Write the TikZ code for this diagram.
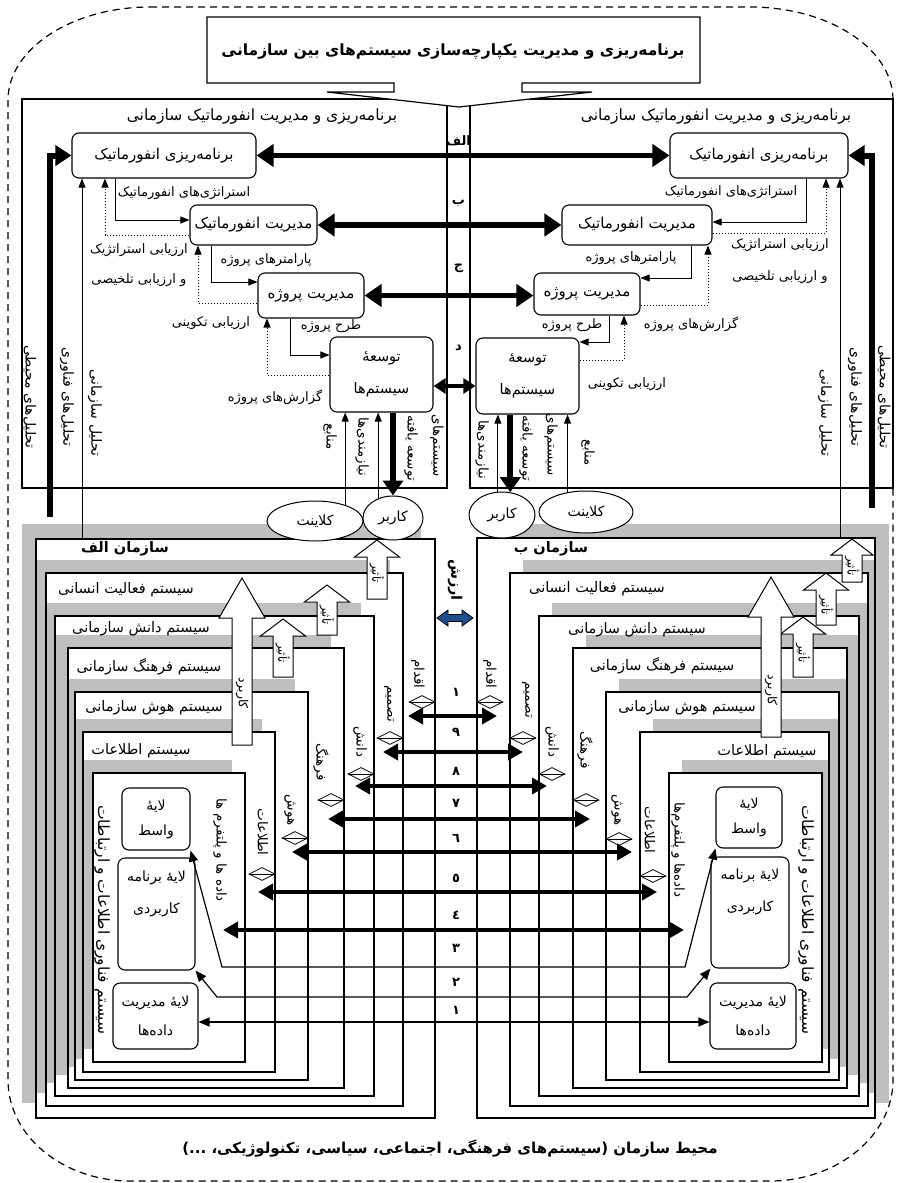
\documentclass[tikz,border=0pt]{standalone}
\usepackage{fontspec}
\setmainfont{DejaVu Sans}
\newfontfamily\fa[Script=Arabic]{DejaVu Sans}
\TeXXeTstate=1
\usetikzlibrary{arrows.meta,shapes.geometric,calc}
\newcommand{\pr}[1]{{\fa\beginR #1\endR}}
\definecolor{shadowgray}{gray}{0.75}
\definecolor{arzesh}{HTML}{1F4E8C}
\tikzset{
  rbox/.style={draw, line width=1.1pt, rounded corners=7pt, fill=white, align=center, font=\fontsize{15}{19}\selectfont, inner sep=0pt},
  lab/.style={font=\fontsize{13}{15}\selectfont, inner sep=0pt},
  vlab/.style={rotate=-90, font=\fontsize{13.5}{15}\selectfont, inner sep=0pt},
  lvl/.style={font=\fontsize{14.5}{16}\selectfont, inner sep=0pt},
  thinarr/.style={line width=0.9pt, -{Triangle[length=9pt,width=7pt]}},
  dotarr/.style={line width=1pt, dotted, -{Triangle[length=9pt,width=7pt]}},
  fatarr/.style={line width=5.5pt, {Triangle[length=17pt,width=22pt]}-{Triangle[length=17pt,width=22pt]}},
  fatone/.style={line width=6pt, -{Triangle[length=16pt,width=20pt]}},
  gridarr/.style={line width=4.5pt, {Triangle[length=15pt,width=16pt]}-{Triangle[length=15pt,width=16pt]}},
  orgline/.style={line width=1.7pt},
  dmd/.style={diamond, draw, fill=white, line width=0.8pt, aspect=2, minimum width=26pt, minimum height=13pt, inner sep=0pt},
  ell/.style={ellipse, draw, fill=white, line width=1pt, font=\fontsize{14}{16}\selectfont, inner sep=0pt},
  num/.style={font=\bfseries\fontsize{13}{14}\selectfont, inner sep=0pt},
}
\newcommand{\blockup}[9]{%
  \draw[line width=1pt, fill=white] ({#1-#4/2},#3) -- ({#1-#4/2},{#2+#6}) -- ({#1-#5/2},{#2+#6}) -- (#1,#2) -- ({#1+#5/2},{#2+#6}) -- ({#1+#4/2},{#2+#6}) -- ({#1+#4/2},#3) -- cycle;
  \node[rotate=-90, inner sep=0pt, font=\fontsize{#8}{#8}\selectfont] at (#1,#7) {\pr{#9}};}
\begin{document}
\begin{tikzpicture}[x=1pt,y=-1pt]
\useasboundingbox (0,0) rectangle (897,1183);
% environment boundary
\draw[line width=1.2pt, dash pattern=on 7pt off 5pt] (150,7) -- (750,7) .. controls (828,7) and (893,48) .. (893,100) -- (893,1080) .. controls (893,1135) and (838,1181) .. (770,1181) -- (130,1181) .. controls (63,1181) and (8,1136) .. (8,1080) -- (8,100) .. controls (8,49) and (72,7) .. (150,7);

% ---------- lower organisations: shadows and fills ----------
\fill[shadowgray] (22,524) rectangle (421,1103);  \fill[white] (36,539) rectangle (435,1118);
\fill[shadowgray] (33,560) rectangle (390,1093);  \fill[white] (46,573) rectangle (403,1106);
\fill[shadowgray] (42,603) rectangle (361,1083);  \fill[white] (55,616) rectangle (374,1096);
\fill[shadowgray] (55,635) rectangle (331,1075);  \fill[white] (68,648) rectangle (344,1088);
\fill[shadowgray] (62,679) rectangle (295,1067);  \fill[white] (75,692) rectangle (308,1080);
\fill[shadowgray] (70,719) rectangle (262,1059);  \fill[white] (83,732) rectangle (275,1072);
\fill[shadowgray] (80,760) rectangle (232,1049);  \fill[white] (93,773) rectangle (245,1062);
\fill[shadowgray] (491,524) rectangle (889,1103); \fill[white] (477,538) rectangle (875,1118);
\fill[shadowgray] (523,560) rectangle (881,1093); \fill[white] (510,573) rectangle (868,1106);
\fill[shadowgray] (552,603) rectangle (872,1083); \fill[white] (539,616) rectangle (859,1096);
\fill[shadowgray] (586,635) rectangle (860,1075); \fill[white] (573,648) rectangle (847,1088);
\fill[shadowgray] (619,679) rectangle (852,1067); \fill[white] (606,692) rectangle (839,1080);
\fill[shadowgray] (653,719) rectangle (842,1059); \fill[white] (640,732) rectangle (829,1072);
\fill[shadowgray] (682,760) rectangle (835,1049); \fill[white] (669,773) rectangle (822,1062);
% borders
\draw[orgline] (36,539) rectangle (435,1118);
\draw[orgline] (46,573) rectangle (403,1106);
\draw[orgline] (55,616) rectangle (374,1096);
\draw[orgline] (68,648) rectangle (344,1088);
\draw[orgline] (75,692) rectangle (308,1080);
\draw[orgline] (83,732) rectangle (275,1072);
\draw[orgline] (93,773) rectangle (245,1062);
\draw[orgline] (477,538) rectangle (875,1118);
\draw[orgline] (510,573) rectangle (868,1106);
\draw[orgline] (539,616) rectangle (859,1096);
\draw[orgline] (573,648) rectangle (847,1088);
\draw[orgline] (606,692) rectangle (839,1080);
\draw[orgline] (640,732) rectangle (829,1072);
\draw[orgline] (669,773) rectangle (822,1062);
\coordinate (orgLtop) at (82,539);
\coordinate (orgRtop) at (840,538);

% ---------- upper panels ----------
\draw[line width=1.3pt] (22,99) rectangle (447,488);
\draw[line width=1.3pt] (470,99) rectangle (893,488);
\draw[line width=1.3pt] (447,99) -- (470,99);
% title callout
\draw[line width=1.2pt, fill=white] (207,17) -- (700,17) -- (700,83) -- (522,83) -- (522,92) -- (592,92) -- (459,107) -- (327,92) -- (394,92) -- (394,83) -- (207,83) -- cycle;
\node[font=\bfseries\fontsize{15.5}{17}\selectfont, inner sep=0pt] (title) at (453,52) {\pr{برنامه‌ریزی و مدیریت یکپارچه‌سازی سیستم‌های بین سازمانی}};
% headers
\node[font=\fontsize{15.5}{17}\selectfont, inner sep=0pt] (hL) at (262,117) {\pr{برنامه‌ریزی و مدیریت انفورماتیک سازمانی}};
\node[font=\fontsize{15.5}{17}\selectfont, inner sep=0pt] (hR) at (716,117) {\pr{برنامه‌ریزی و مدیریت انفورماتیک سازمانی}};
% strip letters
\node[num] (sA) at (458.5,141) {\pr{الف}};
\node[num] (sB) at (458.5,203) {\pr{ب}};
\node[num] (sC) at (458.5,268) {\pr{ج}};
\node[num] (sD) at (458.5,348) {\pr{د}};

% boxes
\node[rbox, minimum width=184pt, minimum height=45pt] (bL1) at (164,155.5) {\pr{برنامه‌ریزی انفورماتیک}};
\node[rbox, minimum width=127pt, minimum height=40pt] (bL2) at (253.5,225) {\pr{مدیریت انفورماتیک}};
\node[rbox, minimum width=106pt, minimum height=45pt] (bL3) at (311,295.5) {\pr{مدیریت پروژه}};
\node[rbox, font=\fontsize{14.5}{32}\selectfont, minimum width=103pt, minimum height=75pt] (bL4) at (381.5,374.5) {\pr{توسعهٔ}\\\pr{سیستم‌ها}};
\node[rbox, minimum width=178pt, minimum height=45pt] (bR1) at (759,155.5) {\pr{برنامه‌ریزی انفورماتیک}};
\node[rbox, minimum width=150pt, minimum height=40pt] (bR2) at (637,225) {\pr{مدیریت انفورماتیک}};
\node[rbox, minimum width=106pt, minimum height=42pt] (bR3) at (587,294) {\pr{مدیریت پروژه}};
\node[rbox, font=\fontsize{14.5}{32}\selectfont, minimum width=103pt, minimum height=76pt] (bR4) at (527.5,376) {\pr{توسعهٔ}\\\pr{سیستم‌ها}};

% thick links between sides
\draw[fatarr] (bL1.east) -- (bR1.west);
\draw[fatarr] (bL2.east) -- (bR2.west);
\draw[fatarr] (bL3.east) -- (bL3.east -| bR3.west);
\draw[line width=4pt, {Triangle[length=12pt,width=15pt]}-{Triangle[length=12pt,width=15pt]}] (bL4.east |- 0,386) -- (bR4.west |- 0,386);

% left feedback loops
\draw[thinarr] (bL1.south -| 115,0) -- (115,220) -- (bL2.west |- 0,220);
\draw[dotarr] (bL2.west |- 0,235) -- (105,235) -- (bL1.south -| 105,0);
\draw[thinarr] (bL2.south -| 211,0) -- (211,282) -- (bL3.west |- 0,282);
\draw[dotarr] (bL3.west |- 0,303) -- (198,303) -- (bL2.south -| 198,0);
\draw[thinarr] (bL3.south -| 290,0) -- (290,355) -- (bL4.west |- 0,355);
\draw[dotarr] (bL4.west |- 0,375) -- (267,375) -- (bL3.south -| 267,0);
% right feedback loops
\draw[thinarr] (bR1.south -| 806,0) -- (806,222) -- (bR2.east |- 0,222);
\draw[dotarr] (bR2.east |- 0,233) -- (826,233) -- (bR1.south -| 826,0);
\draw[thinarr] (bR2.south -| 691,0) -- (691,278) -- (bR3.east |- 0,278);
\draw[dotarr] (bR3.east |- 0,305) -- (708,305) -- (bR2.south -| 708,0);
\draw[thinarr] (bR3.south -| 609,0) -- (609,342) -- (bR4.east |- 0,342);
\draw[dotarr] (bR4.east |- 0,360) -- (624,360) -- (bR3.south -| 624,0);

% labels upper left
\node[lab] at (184,193) {\pr{استراتژی‌های انفورماتیک}};
\node[lab] at (139,250) {\pr{ارزیابی استراتژیک}};
\node[lab] at (139,280) {\pr{و ارزیابی تلخیصی}};
\node[lab] at (266,260) {\pr{پارامترهای پروژه}};
\node[lab] at (211,323) {\pr{ارزیابی تکوینی}};
\node[lab] at (331,326) {\pr{طرح پروژه}};
\node[lab] at (275,397) {\pr{گزارش‌های پروژه}};
% labels upper right
\node[lab] at (731,192) {\pr{استراتژی‌های انفورماتیک}};
\node[lab] at (780,245) {\pr{ارزیابی استراتژیک}};
\node[lab] at (780,277) {\pr{و ارزیابی تلخیصی}};
\node[lab] at (631,258) {\pr{پارامترهای پروژه}};
\node[lab] at (572,325) {\pr{طرح پروژه}};
\node[lab] at (691,324) {\pr{گزارش‌های پروژه}};
\node[lab] at (627,384) {\pr{ارزیابی تکوینی}};

% analysis arrows
\coordinate (thL) at (50,517);
\coordinate (thR) at (872,508);
\draw[fatone] (thL) -- (50,155.5) -- (bL1.west);
\draw[fatone] (thR) -- (872,155.5) -- (bR1.east);
\draw[thinarr] (orgLtop) -- (bL1.south -| orgLtop);
\draw[thinarr] (orgRtop) -- (bR1.south -| orgRtop);
\node[vlab, font=\fontsize{14}{15}\selectfont] at (30,397) {\pr{تحلیل‌های محیطی}};
\node[vlab, font=\fontsize{14}{15}\selectfont] at (67,397) {\pr{تحلیل‌های فناوری}};
\node[vlab, font=\fontsize{14}{15}\selectfont] at (95,413) {\pr{تحلیل سازمانی}};
\node[vlab, font=\fontsize{14}{15}\selectfont] at (825,413) {\pr{تحلیل سازمانی}};
\node[vlab, font=\fontsize{14}{15}\selectfont] at (855,397) {\pr{تحلیل‌های فناوری}};
\node[vlab, font=\fontsize{14}{15}\selectfont] at (884,397) {\pr{تحلیل‌های محیطی}};

% ellipses
\node[ell, minimum width=96pt, minimum height=40pt] (eCL) at (315,521) {\pr{کلاینت}};
\node[ell, minimum width=60pt, minimum height=44pt] (eUL) at (393,518) {\pr{کاربر}};
\node[ell, minimum width=66pt, minimum height=46pt] (eUR) at (502,515) {\pr{کاربر}};
\node[ell, minimum width=94pt, minimum height=42pt] (eCR) at (586,512) {\pr{کلاینت}};
% links ellipses - development
\draw[thinarr] (eCL.28) -- (eCL.28 |- bL4.south);
\draw[thinarr] (eUL.127) -- (eUL.127 |- bL4.south);
\draw[line width=6pt, -{Triangle[length=15pt,width=20pt]}] (bL4.south -| eUL.north) -- (eUL.north);
\draw[thinarr] (eUR.100) -- (eUR.100 |- bR4.south);
\draw[line width=6pt, -{Triangle[length=15pt,width=20pt]}] (bR4.south -| eUR.70) -- (eUR.70);
\draw[thinarr] (eCR.133) -- (eCR.133 |- bR4.south);
\node[vlab] at (330,437) {\pr{منابع}};
\node[vlab] at (362,447) {\pr{نیازمندی‌ها}};
\node[vlab] at (411,448) {\pr{توسعه یافته}};
\node[vlab] at (437,446) {\pr{سیستم‌های}};
\node[vlab] at (482,450) {\pr{نیازمندی‌ها}};
\node[vlab] at (526,448) {\pr{توسعه یافته}};
\node[vlab] at (551,445) {\pr{سیستم‌های}};
\node[vlab] at (588,453) {\pr{منابع}};

% organisation labels
\node[font=\bfseries\fontsize{14.5}{16}\selectfont, inner sep=0pt] at (125,549) {\pr{سازمان الف}};
\node[font=\bfseries\fontsize{14.5}{16}\selectfont, inner sep=0pt] at (551,549) {\pr{سازمان ب}};
\node[lvl] at (126,590) {\pr{سیستم فعالیت انسانی}};
\node[lvl] at (141,629) {\pr{سیستم دانش سازمانی}};
\node[lvl] at (149,667) {\pr{سیستم فرهنگ سازمانی}};
\node[lvl] at (154,708) {\pr{سیستم هوش سازمانی}};
\node[lvl] at (141,751) {\pr{سیستم اطلاعات}};
\node[lvl] at (597,589) {\pr{سیستم فعالیت انسانی}};
\node[lvl] at (637,630) {\pr{سیستم دانش سازمانی}};
\node[lvl] at (662,666) {\pr{سیستم فرهنگ سازمانی}};
\node[lvl] at (687,708) {\pr{سیستم هوش سازمانی}};
\node[lvl] at (767,752) {\pr{سیستم اطلاعات}};
\node[vlab, font=\fontsize{15.5}{17}\selectfont] at (102,920) {\pr{سیستم فناوری اطلاعات و ارتباطات}};
\node[vlab, font=\fontsize{15.5}{17}\selectfont] at (806,920) {\pr{سیستم فناوری اطلاعات و ارتباطات}};

% layer boxes
\node[rbox, font=\fontsize{14}{25}\selectfont, minimum width=68pt, minimum height=62pt] (lwL) at (156,819) {\pr{لایهٔ}\\\pr{واسط}};
\node[rbox, minimum width=77pt, minimum height=112pt] (laL) at (156.5,914) {};
\node[font=\fontsize{14}{32}\selectfont, align=center, inner sep=0pt] at (156.5,894) {\pr{لایهٔ برنامه}\\\pr{کاربردی}};
\node[rbox, font=\fontsize{14}{29}\selectfont, minimum width=85pt, minimum height=66pt] (ldL) at (155.5,1016) {\pr{لایهٔ مدیریت}\\\pr{داده‌ها}};
\node[rbox, font=\fontsize{14}{25}\selectfont, minimum width=66pt, minimum height=61pt] (lwR) at (749,817.5) {\pr{لایهٔ}\\\pr{واسط}};
\node[rbox, minimum width=78pt, minimum height=111pt] (laR) at (750,912.5) {};
\node[font=\fontsize{14}{32}\selectfont, align=center, inner sep=0pt] at (750,892) {\pr{لایهٔ برنامه}\\\pr{کاربردی}};
\node[rbox, font=\fontsize{14}{29}\selectfont, minimum width=86pt, minimum height=66pt] (ldR) at (753,1016) {\pr{لایهٔ مدیریت}\\\pr{داده‌ها}};

% block arrows (impact / usage)
\blockup{377}{540}{599}{20}{45}{17}{573}{11.5}{تأثیر}
\blockup{327}{585}{635}{20}{45}{17}{615}{11.5}{تأثیر}
\blockup{283}{619}{677}{20}{45}{17}{653}{11.5}{تأثیر}
\blockup{242}{578}{745}{20}{46}{40}{693}{12.5}{کاربرد}
\blockup{852}{539}{582}{20}{42}{16}{566}{11.5}{تأثیر}
\blockup{826}{573}{625}{20}{45}{17}{605}{11.5}{تأثیر}
\blockup{803}{617}{677}{20}{45}{17}{653}{11.5}{تأثیر}
\blockup{771}{577}{737}{20}{46}{40}{690}{12.5}{کاربرد}

% value arrow
\node[font=\bfseries\fontsize{14.5}{16}\selectfont, rotate=-90, inner sep=0pt] at (455,580) {\pr{ارزش}};
\draw[line width=0.8pt, fill=arzesh] (437,618) -- (448,610) -- (448,614.5) -- (462,614.5) -- (462,610) -- (473,618) -- (462,626) -- (462,621.5) -- (448,621.5) -- (448,626) -- cycle;

% diamonds and their labels
\node[dmd] (dAL) at (422,702) {}; \draw[line width=0.6pt] (dAL.west) -- (dAL.east);
\node[dmd] (dTL) at (390,738) {}; \draw[line width=0.6pt] (dTL.west) -- (dTL.east);
\node[dmd] (dDL) at (361,774) {}; \draw[line width=0.6pt] (dDL.west) -- (dDL.east);
\node[dmd] (dFL) at (331,800) {}; \draw[line width=0.6pt] (dFL.west) -- (dFL.east);
\node[dmd] (dHL) at (295,838) {}; \draw[line width=0.6pt] (dHL.west) -- (dHL.east);
\node[dmd] (dIL) at (262,874) {}; \draw[line width=0.6pt] (dIL.west) -- (dIL.east);
\node[dmd] (dAR) at (490,702) {}; \draw[line width=0.6pt] (dAR.west) -- (dAR.east);
\node[dmd] (dTR) at (523,738) {}; \draw[line width=0.6pt] (dTR.west) -- (dTR.east);
\node[dmd] (dDR) at (552,774) {}; \draw[line width=0.6pt] (dDR.west) -- (dDR.east);
\node[dmd] (dFR) at (586,800) {}; \draw[line width=0.6pt] (dFR.west) -- (dFR.east);
\node[dmd] (dHR) at (619,839) {}; \draw[line width=0.6pt] (dHR.west) -- (dHR.east);
\node[dmd] (dIR) at (653,876) {}; \draw[line width=0.6pt] (dIR.west) -- (dIR.east);
\node[vlab] at (418,674) {\pr{اقدام}};
\node[vlab] at (389,704) {\pr{تصمیم}};
\node[vlab] at (360,742) {\pr{دانش}};
\node[vlab] at (321,762) {\pr{فرهنگ}};
\node[vlab] at (290,810) {\pr{هوش}};
\node[vlab] at (263,832) {\pr{اطلاعات}};
\node[vlab] at (220,850) {\pr{داده ها و پلتفرم ها}};
\node[vlab] at (490,674) {\pr{اقدام}};
\node[vlab] at (527,700) {\pr{تصمیم}};
\node[vlab] at (552,742) {\pr{دانش}};
\node[vlab] at (585,750) {\pr{فرهنگ}};
\node[vlab] at (617,810) {\pr{هوش}};
\node[vlab] at (650,830) {\pr{اطلاعات}};
\node[vlab] at (678,850) {\pr{داده‌ها و پلتفرم‌ها}};

% grid arrows
\draw[gridarr] (408,716) -- (497,716);
\draw[gridarr] (383,752) -- (523,752);
\draw[gridarr] (355,786) -- (547,786);
\draw[gridarr] (328,819) -- (590,819);
\draw[gridarr] (292,852) -- (632,852);
\draw[gridarr] (258,892) -- (657,892);
\draw[gridarr] (223,930) -- (684,930);
\draw[line width=1.2pt, {Triangle[length=11pt,width=9pt]}-{Triangle[length=11pt,width=9pt]}] (lwL.south east) -- (222,967) -- (685,967) -- (lwR.south west);
\draw[line width=1.2pt, {Triangle[length=11pt,width=9pt]}-{Triangle[length=11pt,width=9pt]}] (laL.south east) -- (217,997) -- (687,997) -- (laR.south west);
\draw[line width=1.2pt, {Triangle[length=11pt,width=9pt]}-{Triangle[length=11pt,width=9pt]}] (ldL.east |- 0,1022) -- (ldR.west |- 0,1022);
% numbers
\node[num] at (456,692) {\pr{١}};
\node[num] at (456,732) {\pr{٩}};
\node[num] at (456,771) {\pr{٨}};
\node[num] at (456,803) {\pr{٧}};
\node[num] at (456,838) {\pr{٦}};
\node[num] at (456,878) {\pr{٥}};
\node[num] at (456,915) {\pr{٤}};
\node[num] at (456,948) {\pr{٣}};
\node[num] at (456,982) {\pr{٢}};
\node[num] at (456,1010) {\pr{١}};

% environment label
\node[font=\bfseries\fontsize{15}{17}\selectfont, inner sep=0pt] at (450,1148) {\pr{محیط سازمان (سیستم‌های فرهنگی، اجتماعی، سیاسی، تکنولوژیکی، ...)}};
\end{tikzpicture}
\end{document}
